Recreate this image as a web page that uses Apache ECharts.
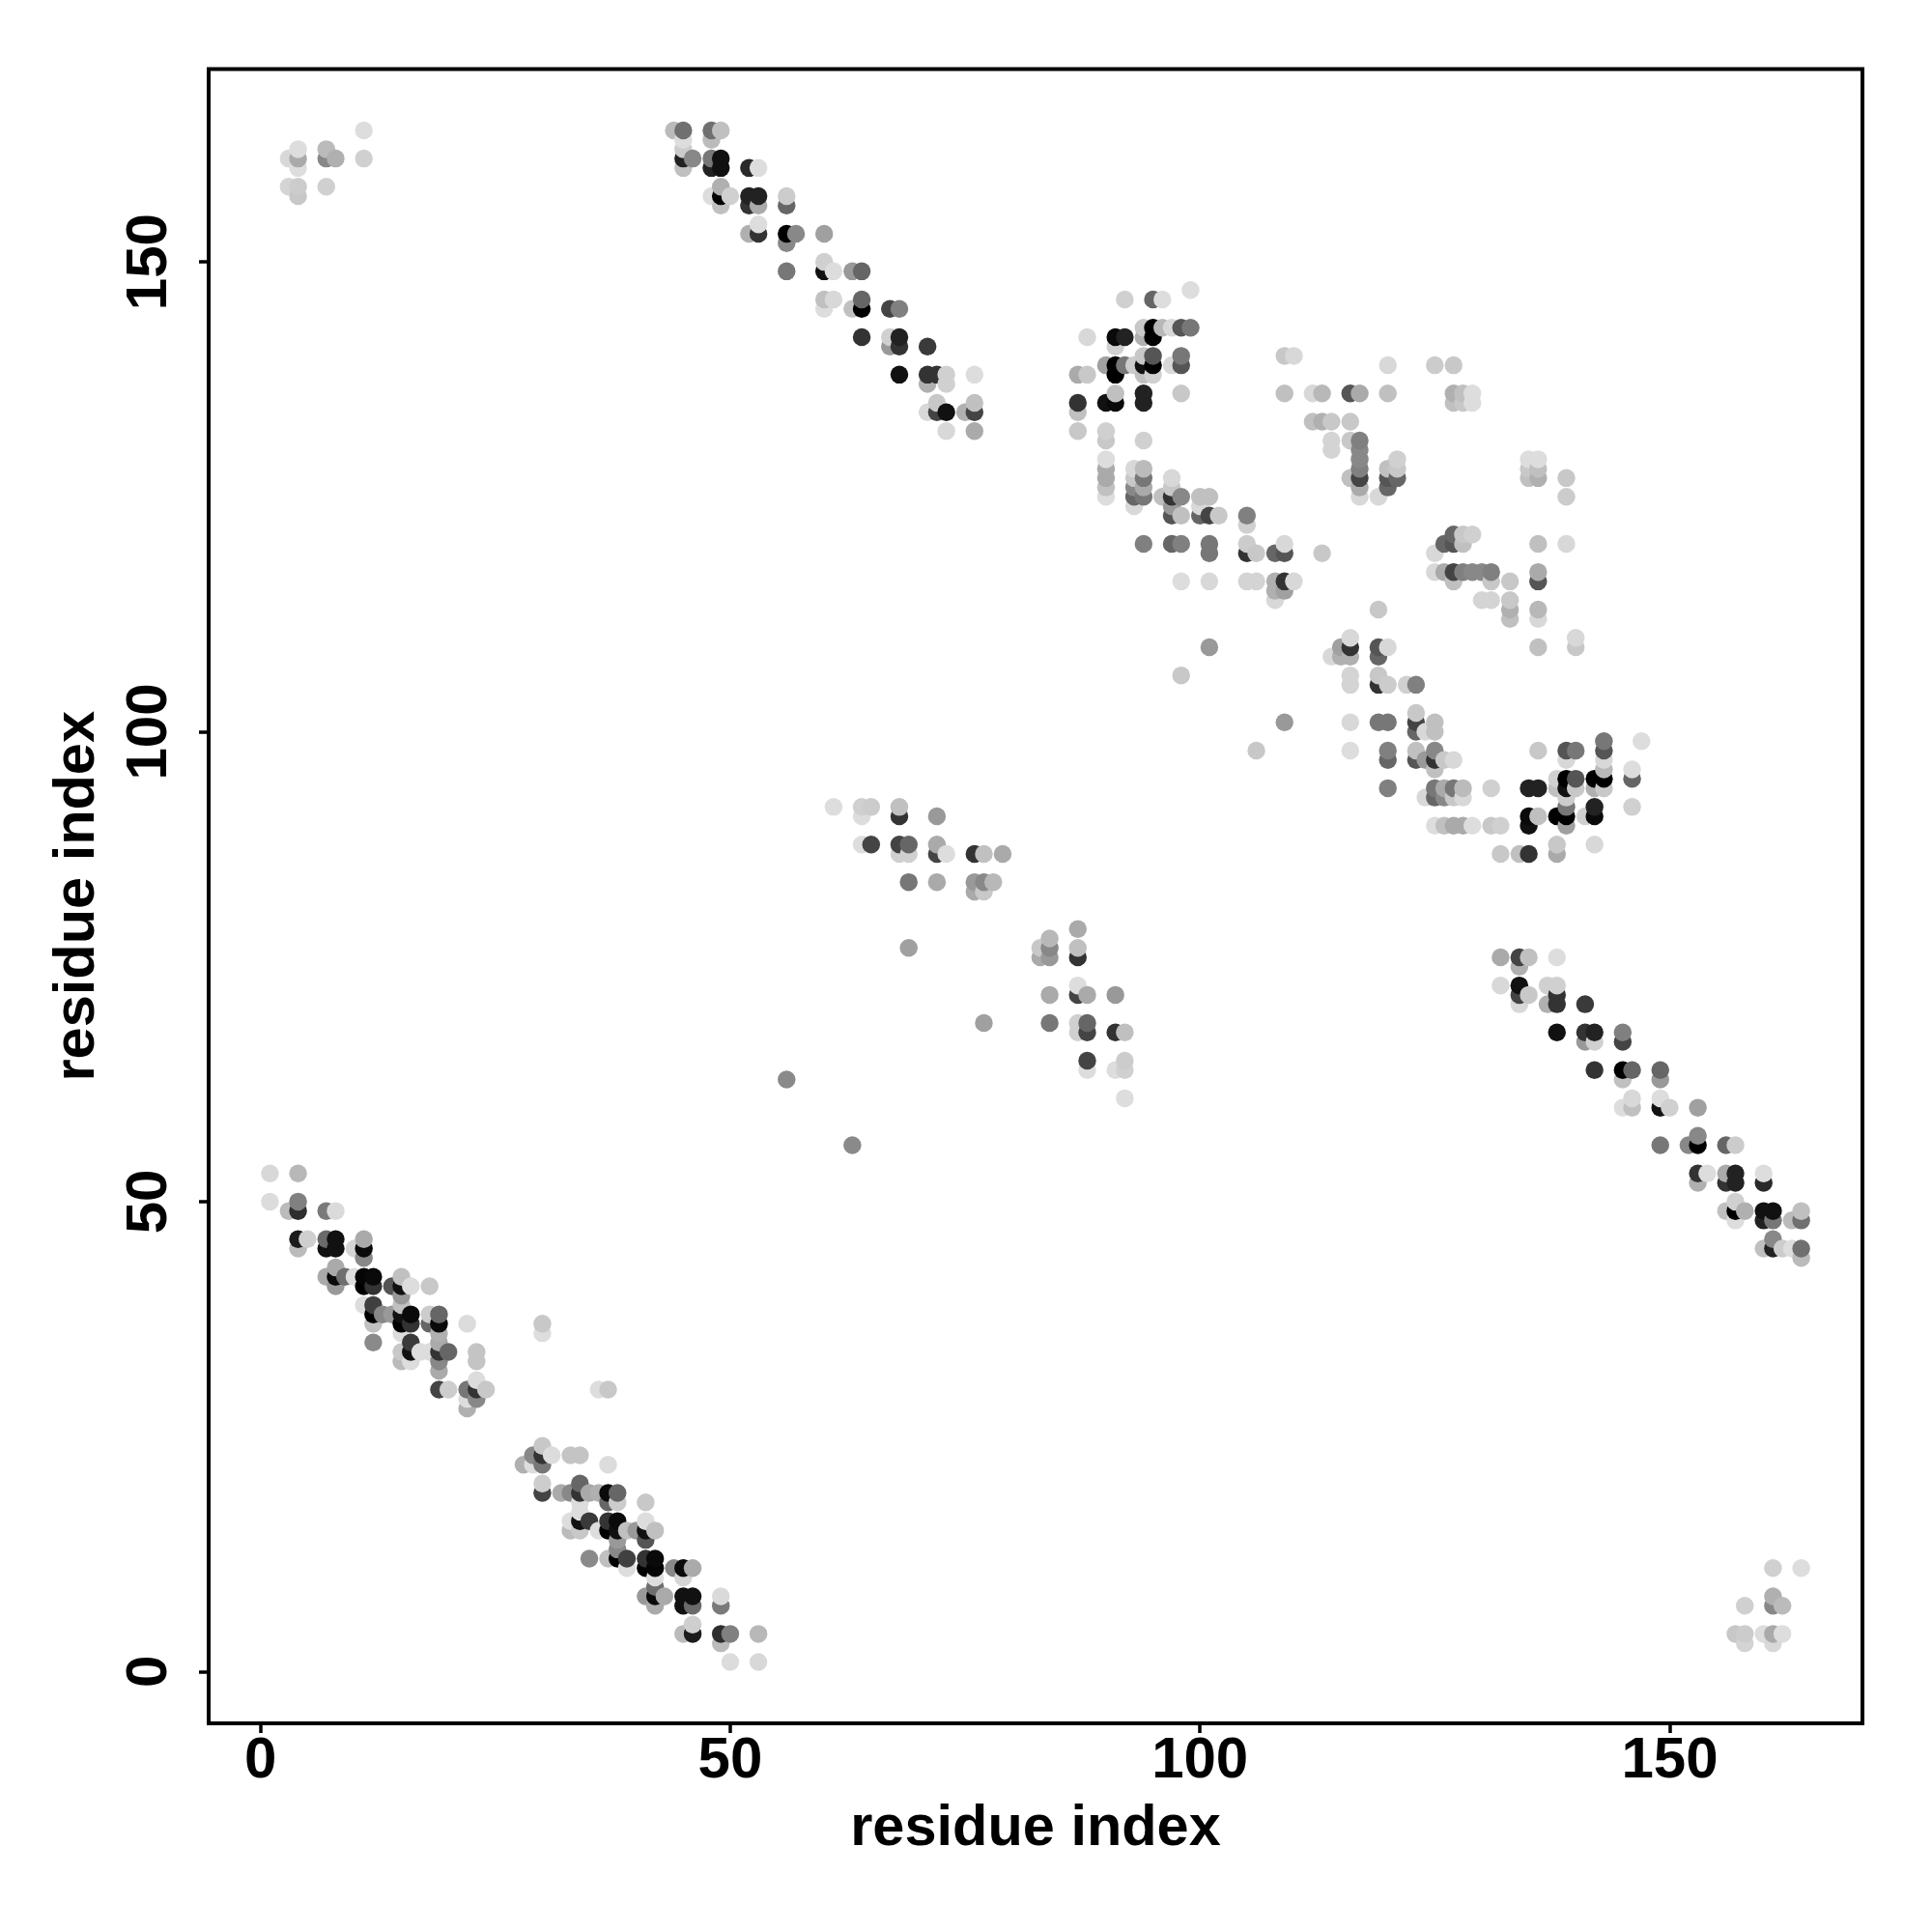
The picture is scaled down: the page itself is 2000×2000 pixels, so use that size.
<!DOCTYPE html>
<html>
<head>
<meta charset="utf-8">
<style>html,body{margin:0;padding:0;background:#fff}#c{width:2000px;height:2000px}</style>
<script src="https://cdn.jsdelivr.net/npm/echarts@6/dist/echarts.min.js"></script>
</head>
<body>
<div id="c"></div>
<script>
const tickValues = [0, 50, 100, 150];
const axisTitle = 'residue index';
const residueI = [
1,1, 3,3,3, 4,4,4,4,4,4,4,4,4,4, 5, 7,7,7,7,7,7,7, 8,8,8,8,8,8,8, 9, 10,10,
11,11,11,11,11,11,11,11, 12,12,12,12,12,12, 13, 14,14, 15,15,15,15,15,15,15,15,15,
16,16,16,16,16,16, 17, 18,18,18,18, 19,19,19,19,19,19,19,19, 20,20, 22,22,22,22,
23,23,23,23,23, 24, 30,30,
44, 45,45,45,45,45, 46, 48,48,48,48,48, 49,49,49,49,49,49, 50, 52,52,52,52, 53,53,53,53,53,
56,56,56,56,56,56, 57, 60,60,60,60,60, 61,61,61, 63,63, 64,64,64,64,64,64,64, 65,65,
67,67,67, 68,68,68,68,68,68,68,68, 69,69,69,69, 71,71,71,71, 72,72,72,72,72,72,72,
73,73,73,73,73, 75, 76,76,76,76,76,76,76, 77,77,77, 78, 79,
87,87,87,87, 88,88, 90,90,90,90,90,90,90,90,90, 91,91,91,91,91,91, 92,92,92,
93,93,93,93,93,93, 94,94,94,94,94,94,94,94,94,94,94,94,94, 95,95,95,95,95,95, 96,96,96,
97,97,97,97,97,97,97,97, 98,98,98,98,98,98,98,98,98, 99,99, 100,100,100,
101,101,101,101,101,101, 102, 105,105,105,105,105, 106,106, 108,108,108,108,
109,109,109,109,109,109, 110,110, 112,112, 113,113,113, 114,114,114, 116,116,116,116,
117,117,117,117,117,117,117,117, 119, 120,120,120,120,120, 121,121,121, 125,
127,127,127, 128,128, 129,129
];
const residueJ = [
50,53, 49,158,161, 45,46,49,50,53,157,158,160,161,162, 46, 42,45,46,49,158,161,162, 41,42,43,45,46,49,161, 42, 42,45,
39,41,42,44,45,46,161,164, 35,37,38,39,41,42, 38, 38,41, 33,34,36,37,38,39,40,41,42,
33,34,35,37,38,41, 34, 34,37,38,41, 30,32,33,34,35,36,37,38, 30,34, 28,29,30,37,
29,30,31,33,34, 30, 36,37,
164, 160,161,162,163,164, 161, 157,160,161,163,164, 156,157,158,160,161,164, 157, 153,156,157,160, 153,154,156,157,160,
63,149,152,153,156,157, 153, 145,146,149,150,153, 92,146,149, 145,149, 88,91,92,142,145,146,149, 88,92,
141,142,145, 87,88,91,92,138,141,142,145, 77,84,87,88, 134,137,138,141, 84,87,88,91,134,135,138,
87,132,134,137,138, 134, 83,84,87,132,134,135,138, 83,84,87, 84, 87,
132,134,135,138, 138,142, 125,126,127,128,129,131,132,135,139, 135,136,138,139,141,142, 139,142,146,
124,125,126,127,128,139, 120,125,126,127,128,131,135,136,138,139,140,142,143, 138,139,140,142,143,146, 125,143,146,
120,123,124,125,126,127,139,143, 106,116,120,123,125,136,139,140,143, 143,147, 123,124,125,
109,116,119,120,123,125, 123, 116,119,120,122,123, 116,119, 114,115,116,119,
115,116,119,120,136,140, 116,140, 133,136, 119,133,136, 130,131,133, 127,131,133,136,
125,126,127,128,129,130,131,136, 125, 126,127,128,136,139, 127,128,129, 139,
135,136,139, 135,136, 135,136
];
const contactShade = [
0xdc,0xd8, 0xbb,0xd4,0xd8, 0xbb,0x1c,0x2e,0x80,0xb8,0xc8,0xcc,0xdd,0xaa,0xdd, 0xcf, 0xaa,0x11,0x6a,0x7a,0xd0,0x88,0xbb, 0x99,0x0a,0xaa,0x11,0x11,0xda,0xb0, 0x6e, 0xdd,0xd5,
0xdd,0x00,0x05,0x88,0x0a,0xaa,0xd0,0xdd, 0x8a,0xc0,0x00,0x40,0x33,0x0a, 0x88, 0x99,0x55, 0xbb,0xc8,0xdd,0x00,0x11,0xc0,0x99,0x11,0xc0,
0xdd,0x11,0x3a,0x33,0x0a,0xdd, 0xdd, 0xdd,0x66,0xcc,0xc8, 0x44,0xaa,0x88,0x33,0xaa,0xb0,0x0a,0x66, 0xcd,0x66, 0xb0,0xdd,0x77,0xdc,
0x88,0x33,0xdc,0xc4,0xc4, 0xc8, 0xdd,0xc8,
0xbb, 0xc0,0x22,0xcc,0xdd,0x70, 0x88, 0xdd,0x22,0x77,0xbb,0x70, 0xc0,0x00,0xb0,0x11,0x11,0xc0, 0xd0, 0xb0,0x33,0x22,0x2a, 0x33,0xdd,0xaa,0x22,0xdd,
0x8a,0x77,0x88,0x00,0x66,0xcc, 0x88, 0xdd,0xc0,0x11,0xd0,0xa0, 0xdd,0xd8,0xdd, 0xc0,0x99, 0xdd,0xdd,0xd0,0x33,0x00,0x66,0x66, 0x44,0xcc,
0x99,0xd0,0x44, 0xd0,0x44,0x33,0xc0,0x11,0x33,0x22,0x80, 0xa0,0x77,0xd0,0x66, 0xd8,0xb0,0x33,0x3a, 0xaa,0x44,0xaa,0x99,0x44,0xc8,0x33,
0xdd,0xd8,0x11,0xd0,0xd0, 0xb0, 0xaa,0x99,0x33,0xaa,0x44,0xc0,0xdd, 0xc8,0x88,0xc0, 0xb8, 0xaa,
0xc8,0xc0,0x33,0xaa, 0xc8,0xd8, 0xdd,0xc0,0xaa,0xaa,0xdd,0xc8,0xd0,0x11,0xa0, 0x0a,0xc0,0x00,0x00,0xd0,0x0a, 0x77,0x22,0xd0,
0xd8,0x66,0x88,0xc8,0xd8,0xcc, 0x80,0x77,0xaa,0x77,0xbb,0xd0,0x22,0x22,0xc0,0x11,0xc8,0xb0,0xc8, 0xd0,0x00,0x55,0x00,0x00,0x66, 0xc0,0xb8,0xdd,
0x66,0x55,0x99,0x33,0xc8,0xd8,0xd8,0xd8, 0xc8,0xdd,0x80,0xc0,0x88,0xc8,0x55,0x77,0x55, 0x77,0xdd, 0x66,0xd8,0xc0,
0x99,0xd8,0x77,0x77,0x44,0xc0, 0xc8, 0xd4,0x33,0xcc,0xd0,0x80, 0xd4,0xc8, 0xd8,0xb0,0xb0,0x66,
0xa0,0x33,0x55,0xd8,0xc0,0xc8, 0xd8,0xd8, 0xc0,0xd8, 0xc8,0xb0,0xb8, 0xd4,0xd4,0xc8, 0xc0,0xc8,0xc8,0x55,
0xd8,0xaa,0x44,0x80,0x88,0x88,0x80,0xaa, 0xd8, 0x66,0x55,0xc0,0xc0,0xd8, 0x66,0xc8,0xd0, 0xcc,
0xc0,0xb0,0xc8, 0xc8,0xc0, 0xdd,0xdd
];

const points = [];
residueI.forEach((a, k) => {
  const b = residueJ[k];
  const g = contactShade[k];
  points.push([a, b, g]);
  points.push([b, a, g]);
});
points.sort((p, q) => p[0] - q[0] || p[1] - q[1]);
const seriesData = points.map(p => ({
  value: [p[0], p[1]],
  itemStyle: { color: 'rgb(' + p[2] + ',' + p[2] + ',' + p[2] + ')', opacity: 1 }
}));

const fontFamily = '"Liberation Sans", Arial, sans-serif';
function axis(extra) {
  return Object.assign({
    type: 'value',
    min: -5.52,
    max: 170.52,
    splitLine: { show: false },
    axisLine: { show: false, onZero: false },
    axisTick: { show: true, length: 10, inside: false, customValues: tickValues,
      lineStyle: { color: '#000', width: 3.5 } },
    name: axisTitle,
    nameLocation: 'middle',
    nameTextStyle: { fontFamily, fontWeight: 'bold', fontSize: 59.5, color: '#000' }
  }, extra);
}
const chart = echarts.init(document.getElementById('c'), null, { renderer: 'canvas' });
chart.setOption({
  animation: false,
  backgroundColor: '#fff',
  grid: { left: 216, right: 72, top: 71.5, bottom: 216, show: true,
    borderColor: '#000', borderWidth: 4, backgroundColor: 'transparent' },
  xAxis: axis({
    nameGap: 80,
    axisLabel: { customValues: tickValues, fontFamily, fontWeight: 'bold', fontSize: 60,
      color: '#000', margin: 9 }
  }),
  yAxis: axis({
    nameGap: 105,
    axisLabel: { customValues: tickValues, rotate: 90, fontFamily, fontWeight: 'bold', fontSize: 60,
      color: '#000', margin: 31, align: 'center', verticalAlign: 'bottom' }
  }),
  series: [{
    type: 'scatter',
    symbol: 'circle',
    symbolSize: 18.5,
    large: false,
    progressive: 0,
    data: seriesData,
    emphasis: { disabled: true },
    clip: false
  }]
});
</script>
</body>
</html>
